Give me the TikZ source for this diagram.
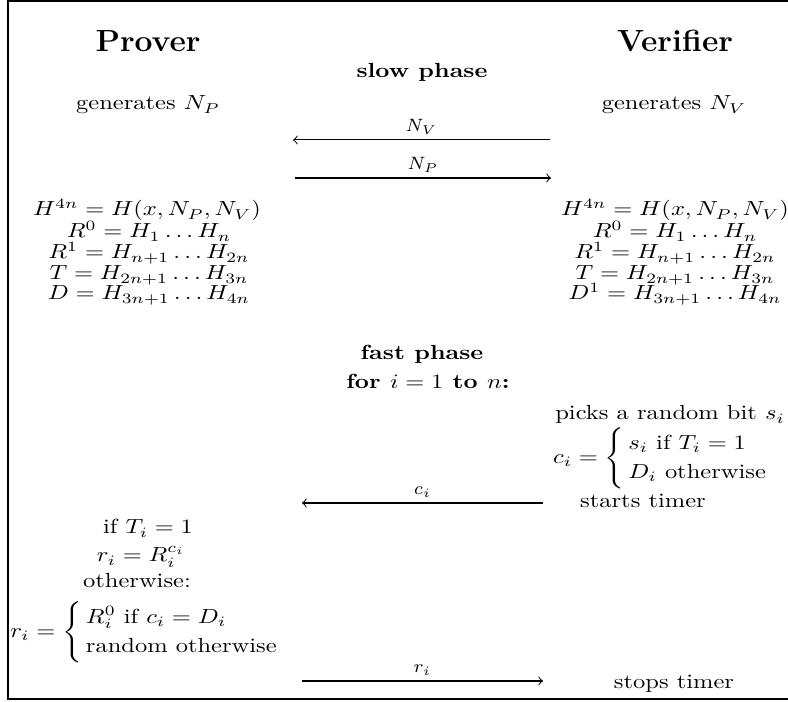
\documentclass[tikz,border=0pt]{standalone}
\usepackage{amsmath}
\usepackage{graphicx}
\newcommand{\sq}[1]{\scalebox{0.96}[0.8]{#1}}
\newcommand{\hd}[1]{\scalebox{1.04}[1.0]{#1}}
\newcommand{\mycases}[1]{\left\{\,\renewcommand{\arraystretch}{1.2}\begin{array}{@{}l@{}}#1\end{array}\right.}
\begin{document}
\begin{tikzpicture}[x=0.392pt,y=-0.392pt,
  txt/.style={inner sep=0pt, anchor=base},
  mid/.style={inner sep=0pt, anchor=center},
  msg/.style={->, line width=0.4pt},
  lbl/.style={above, font=\scriptsize, inner sep=2pt},
  frame/.style={line width=0.8pt}]
\useasboundingbox (0,0) rectangle (788,702);
% frame
\draw[frame] (790,1) -- (8,1) -- (8,699) -- (790,699);
% headers
\node[txt,font=\large\bfseries] (prover) at (148,52) {\hd{Prover}};
\node[txt,font=\large\bfseries] (verifier) at (675,52) {\hd{Verifier}};
\node[txt,font=\bfseries] (slow) at (422,78) {\sq{slow phase}};
\node[txt] (genp) at (148,110) {\sq{generates $N_P$}};
\node[txt] (genv) at (674,110) {\sq{generates $N_V$}};
% slow phase messages
\coordinate (nva) at (550,140); \coordinate (nvb) at (293,140);
\coordinate (npa) at (295,178); \coordinate (npb) at (551,178);
\draw[msg] (nva) -- node[lbl] (lnv) {$N_V$} (nvb);
\draw[msg] (npa) -- node[lbl] (lnp) {$N_P$} (npb);
% prover keys
\node[txt] (ph) at (147,216) {\sq{$H^{4n} = H(x,N_P,N_V)$}};
\node[txt] (pr0) at (149,238) {\sq{$R^0 = H_1\dots H_n$}};
\node[txt] (pr1) at (149,259) {\sq{$R^1 = H_{n+1}\dots H_{2n}$}};
\node[txt] (pt) at (149,280) {\sq{$T = H_{2n+1}\dots H_{3n}$}};
\node[txt] (pd) at (149,300) {\sq{$D = H_{3n+1}\dots H_{4n}$}};
% verifier keys
\node[txt] (vh) at (675,216) {\sq{$H^{4n} = H(x,N_P,N_V)$}};
\node[txt] (vr0) at (675,238) {\sq{$R^0 = H_1\dots H_n$}};
\node[txt] (vr1) at (675,259) {\sq{$R^1 = H_{n+1}\dots H_{2n}$}};
\node[txt] (vt) at (675,280) {\sq{$T = H_{2n+1}\dots H_{3n}$}};
\node[txt] (vd) at (675,300) {\sq{$D^1 = H_{3n+1}\dots H_{4n}$}};
% fast phase
\node[txt,font=\bfseries] (fast) at (422,360) {\sq{fast phase}};
\node[txt,font=\bfseries] (loop) at (428,389) {\sq{for $i = 1$ to $n$:}};
\node[txt] (picks) at (670,420) {\sq{picks a random bit $s_i$}};
\node[mid] (ci) at (661,458) {\sq{$c_i = \mycases{s_i \text{ if } T_i = 1\\ D_i \text{ otherwise}}$}};
\node[txt] (start) at (643,508) {\sq{starts timer}};
\coordinate (cia) at (543,503); \coordinate (cib) at (302,503);
\draw[msg] (cia) -- node[lbl] (lci) {$c_i$} (cib);
% prover response
\node[txt] (ift) at (148,534) {\sq{if $T_i = 1$}};
\node[txt] (rr) at (141,562) {\sq{$r_i = R_i^{c_i}$}};
\node[txt] (oth) at (137,588) {\sq{otherwise:}};
\node[mid] (rcase) at (145,632) {\sq{$r_i = \mycases{R_i^0 \text{ if } c_i = D_i\\ \text{random otherwise}}$}};
\coordinate (ria) at (302,681); \coordinate (rib) at (543,681);
\draw[msg] (ria) -- node[lbl] (lri) {$r_i$} (rib);
\node[txt] (stop) at (674,689) {\sq{stops timer}};
\end{tikzpicture}
\end{document}
